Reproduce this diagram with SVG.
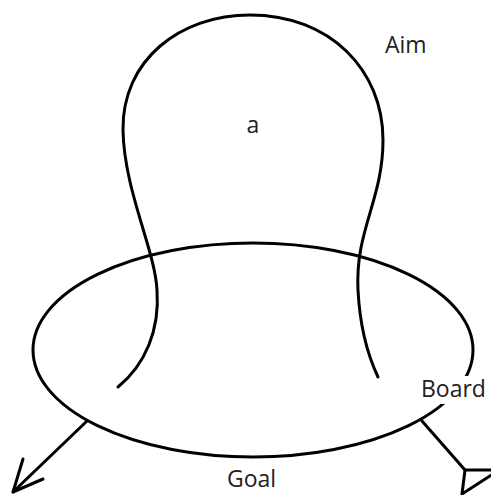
<svg xmlns="http://www.w3.org/2000/svg" width="491" height="495" viewBox="0 0 491 495">
<style>
.ln{fill:none;stroke:#000;stroke-width:3;stroke-linecap:round;stroke-linejoin:round}
.lbl{font-family:"Open Sans","Liberation Sans",sans-serif;font-size:23px;fill:#222}
</style>
<rect width="491" height="495" fill="#fff"/>
<g id="board">
<ellipse class="ln" cx="253" cy="350" rx="220" ry="107"/>
</g>
<g id="aim">
<path class="ln" d="M118,387 C145,365 160,330 157,290 C155,250 124,190 123,130 C122,60 180,15 250,15 C330,15 383,70 383,140 C383,200 355,230 358,290 C360,330 370,360 378,377"/>
</g>
<g id="connectors">
<path class="ln" d="M87,421 L13,492"/>
<path class="ln" d="M23,459 L13,492 L43,479"/>
<path class="ln" d="M422,421 L465,470"/>
<path class="ln" d="M465,470 L499,470 L462,494 Z"/>
</g>
<g id="labels">
<text class="lbl" x="253" y="133" text-anchor="middle">a</text>
<text class="lbl" x="385" y="53">Aim</text>
<rect x="418" y="376" width="73" height="28" fill="#fff"/>
<text class="lbl" x="421" y="397">Board</text>
<text class="lbl" x="227" y="487">Goal</text>
</g>
</svg>
